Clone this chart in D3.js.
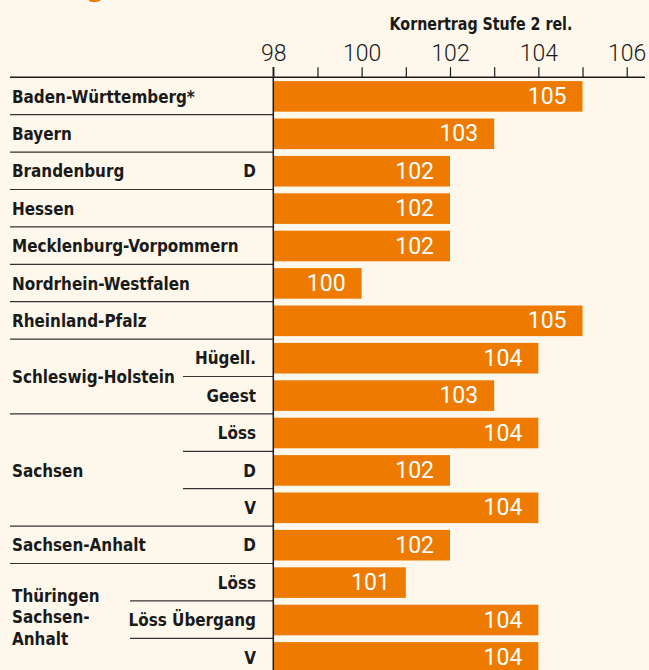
<!DOCTYPE html>
<html><head><meta charset="utf-8">
<script src="https://cdn.jsdelivr.net/npm/d3@7"></script>
<style>
html,body{margin:0;padding:0;background:#FEF8EC;}
svg{display:block;}
.cond{font-family:"Liberation Sans Narrow","Arial Narrow","DejaVu Sans Condensed",sans-serif;font-weight:bold;}
.light{font-family:Roboto,"Liberation Sans",sans-serif;font-weight:300;}
.val{font-family:Roboto,"Liberation Sans",sans-serif;font-weight:400;}
</style></head><body>
<script>
// ---- data ----
const groups = ["Baden-Württemberg*","Bayern","Brandenburg","Hessen","Mecklenburg-Vorpommern","Nordrhein-Westfalen","Rheinland-Pfalz","Schleswig-Holstein","Schleswig-Holstein","Sachsen","Sachsen","Sachsen","Sachsen-Anhalt","Thüringen Sachsen-Anhalt","Thüringen Sachsen-Anhalt","Thüringen Sachsen-Anhalt"];
const subLabels = ["","","D","","","","","Hügell.","Geest","Löss","D","V","D","Löss","Löss Übergang","V"];
const values = [105,103,102,102,102,100,105,104,103,104,102,104,102,101,104,104];
const tickValues = [98,99,100,101,102,103,104,105,106];
const tickLabels = ["98","","100","","102","","104","","106"];
const axisTitle = "Kornertrag Stufe 2 rel.";
const thuerLines = ["Thüringen","Sachsen-","Anhalt"];

(function(){
const W=649,H=670;
const svg=d3.select("body").append("svg").attr("width",W).attr("height",H);
svg.append("rect").attr("width",W).attr("height",H).attr("fill","#FEF8EC");

// cut-off title descender
svg.append("text").attr("class","cond").attr("x",86).attr("y",-4).attr("font-size",30).attr("fill","#EE7B00").text("g");

const x=d3.scaleLinear().domain([98,106]).range([273.3,626.7]);
const idx=d3.range(values.length);
const rowH=37.4, y0Top=77.3;
const y=d3.scaleBand().domain(idx).range([y0Top, y0Top+rowH*values.length]).paddingInner(0).paddingOuter(0);

const ink="#1a1a1a";
const SX=0.94;
function condText(xp,yp,t,anchor,sx){
  return svg.append("text").attr("class","cond")
    .attr("transform",`translate(${xp},${yp}) scale(${sx||SX},1)`)
    .attr("text-anchor",anchor||"start").attr("font-size",18).attr("fill",ink).text(t);
}
// axis
const axis=d3.axisTop(x).tickValues(tickValues).tickSize(10).tickSizeOuter(0).tickFormat((d,i)=>tickLabels[i]);
const ag=svg.append("g").attr("transform",`translate(0,${y0Top})`).call(axis);
ag.select(".domain").remove();
ag.selectAll(".tick line").attr("stroke",ink).attr("stroke-width",1.2);
ag.selectAll(".tick text").attr("class","light").attr("font-size",23).attr("fill",ink).attr("y",-16).attr("dy",0);
svg.append("line").attr("x1",10).attr("x2",645).attr("y1",y0Top).attr("y2",y0Top).attr("stroke",ink).attr("stroke-width",1.5);

condText(481,30,axisTitle,"middle",0.88);

// bars
svg.selectAll("rect.bar").data(idx).join("rect").attr("class","bar")
  .attr("x",x(98)).attr("y",i=>y(i)+3.8).attr("height",30.6)
  .attr("width",i=>x(values[i])-x(98)).attr("fill","#EE7B00");
svg.selectAll("text.val").data(idx).join("text").attr("class","val")
  .attr("x",i=>x(values[i])-16).attr("y",i=>y(i)+26.7).attr("text-anchor","end")
  .attr("font-size",23).attr("fill","#fff").text(i=>values[i]);

// separators
idx.slice(1).forEach(i=>{
  const same=groups[i]===groups[i-1];
  let x0=10;
  if(same) x0 = groups[i].startsWith("Thüringen") ? 130 : 183;
  svg.append("line").attr("x1",x0).attr("x2",273).attr("y1",y(i)).attr("y2",y(i)).attr("stroke","#333").attr("stroke-width",1.2);
});
// vertical axis line
svg.append("line").attr("x1",x(98)).attr("x2",x(98)).attr("y1",67).attr("y2",H).attr("stroke",ink).attr("stroke-width",1.5);

// group labels
const uniq=[...new Set(groups)];
uniq.forEach(g=>{
  const rows=idx.filter(i=>groups[i]===g);
  const ya=y(rows[0]), yb=y(rows[rows.length-1])+rowH;
  const cy=(ya+yb)/2;
  if(g.startsWith("Thüringen")){
    thuerLines.forEach((t,k)=>condText(12,601.7+k*21.7,t));
  } else {
    condText(12,cy+6.5,g);
  }
});
// sub labels
idx.filter(i=>subLabels[i]).forEach(i=>condText(256,y(i)+rowH/2+6.5,subLabels[i],"end"));
})();
</script>
</body></html>
